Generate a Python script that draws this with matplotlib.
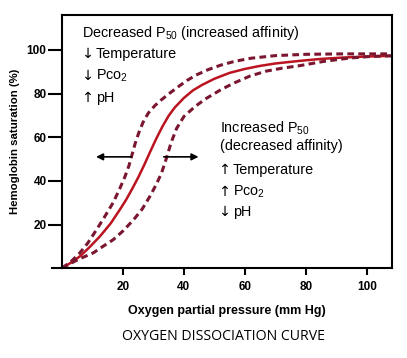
"""Oxygen dissociation curve with left/right shifted curves."""
import matplotlib
matplotlib.use("Agg")
import matplotlib.pyplot as plt

# values
po2_mid = [0, 3, 6, 9, 12.5, 16, 19, 21, 23, 25, 27, 29, 31, 33, 35, 37,
           40, 43, 46, 50, 55, 60, 65, 70, 78, 85, 92, 100, 108]
sat_mid = [0, 2.5, 5.5, 9.5, 14.6, 20.5, 26.8, 31.2, 36.2, 41.5, 47.3, 53.5,
           59.5, 65, 69.8, 73.6, 78, 81.5, 84, 86.8, 89.5, 91.3, 92.7, 93.8,
           95, 95.9, 96.5, 97, 97.3]

po2_left = [0, 3, 5.9, 8.5, 11.4, 14, 16.8, 19, 20.7, 22, 23, 24, 25.2, 26.6,
            28.3, 30.5, 32.5, 34.8, 38, 41, 44, 48, 52, 56.7, 62, 70, 80, 92, 108]
sat_left = [0, 3, 7, 11.5, 17.7, 23.5, 30, 36.5, 42, 47, 52, 57, 62, 66.8, 71,
            74.5, 77, 79.6, 83, 86, 88.5, 91, 93, 94.8, 96.2, 97.4, 98, 98.2, 98.2]

po2_right = [0, 4, 7, 10.3, 13.5, 16.8, 20, 23.4, 26.3, 28.9, 31, 32.7, 34.3,
             35.8, 37.6, 40, 43.6, 47, 52.4, 56.7, 61.6, 67, 72, 78, 86, 94.4,
             101, 108]
sat_right = [0, 3, 5, 7, 10, 13, 17, 22, 27, 33, 38.5, 43.7, 50.5, 57.5, 64,
             69.5, 74, 77.5, 82, 85, 88, 90.3, 91.6, 92.8, 94.8, 96.3, 97, 97.3]

x_ticks = [20, 40, 60, 80, 100]
y_ticks = [20, 40, 60, 80, 100]

left_head = "Decreased P$_{50}$ (increased affinity)"
left_items = [("\u2193", "Temperature"), ("\u2193", "Pco$_2$"), ("\u2191", "pH")]
right_head = ["Increased P$_{50}$", "(decreased affinity)"]
right_items = [("\u2191", "Temperature"), ("\u2191", "Pco$_2$"), ("\u2193", "pH")]

plt.rcParams["font.family"] = ["Liberation Sans", "DejaVu Sans"]
plt.rcParams["mathtext.fontset"] = "custom"
plt.rcParams["mathtext.rm"] = "Liberation Sans"
plt.rcParams["mathtext.it"] = "Liberation Sans"

W, H = 407, 358
fig = plt.figure(figsize=(W / 100, H / 100), dpi=100)
ax = fig.add_axes([0.152, 0.251, 0.811, 0.707])

solid_c = "#bb1420"
dash_c = "#7a1630"

ax.plot(po2_mid, sat_mid, color=solid_c, lw=1.8, solid_capstyle="round",
        solid_joinstyle="round")
ax.plot(po2_left, sat_left, color=dash_c, lw=2.2, dashes=(2.2, 1.4))
ax.plot(po2_right, sat_right, color=dash_c, lw=2.2, dashes=(2.2, 1.4))

# shift arrows
ax.annotate("", xy=(11.2, 51), xytext=(22.8, 51),
            arrowprops=dict(arrowstyle="-|>", color="black", lw=1.2,
                            mutation_scale=10, shrinkA=0, shrinkB=0))
ax.annotate("", xy=(44.8, 51), xytext=(33.4, 51),
            arrowprops=dict(arrowstyle="-|>", color="black", lw=1.2,
                            mutation_scale=10, shrinkA=0, shrinkB=0))

ax.set_xlim(0, 108.2)
ax.set_ylim(0, 116)
ax.set_xticks(x_ticks)
ax.set_yticks(y_ticks)
ax.tick_params(axis="y", length=10, width=1.5, pad=1, labelsize=8.5)
ax.tick_params(axis="x", length=5, width=1.5, pad=4, labelsize=8.5)
for lab in ax.get_xticklabels() + ax.get_yticklabels():
    lab.set_fontweight("bold")
for sp in ax.spines.values():
    sp.set_linewidth(1.5)
ax.plot([-0.03, 0], [0, 0], transform=ax.transAxes, color="black",
        lw=1.5, clip_on=False)

ax.set_xlabel("Oxygen partial pressure (mm Hg)", fontsize=9,
              fontweight="bold", labelpad=9)
ax.set_ylabel("Hemoglobin saturation (%)", fontsize=8.2,
              fontweight="bold", labelpad=5)

fs = 10.4
# left annotation block
fig.text(82 / W, 1 - 33 / H, left_head, fontsize=fs, va="center")
for (arr, word), yp in zip(left_items, [54, 76, 98]):
    fig.text(81 / W, 1 - yp / H, arr, fontsize=fs, va="center",
             family="DejaVu Sans")
    fig.text(96 / W, 1 - yp / H, word, fontsize=fs, va="center")

# right annotation block
for t, yp in zip(right_head, [128, 146]):
    fig.text(220 / W, 1 - yp / H, t, fontsize=fs, va="center")
for (arr, word), yp in zip(right_items, [170, 192, 212]):
    fig.text(218 / W, 1 - yp / H, arr, fontsize=fs, va="center",
             family="DejaVu Sans")
    fig.text(233 / W, 1 - yp / H, word, fontsize=fs, va="center")

fig.text(223 / W, 1 - 336 / H, "OXYGEN DISSOCIATION CURVE",
         fontsize=10.2, ha="center", va="center",
         family=["Open Sans", "DejaVu Sans"])

plt.savefig("out.png", dpi=100)
